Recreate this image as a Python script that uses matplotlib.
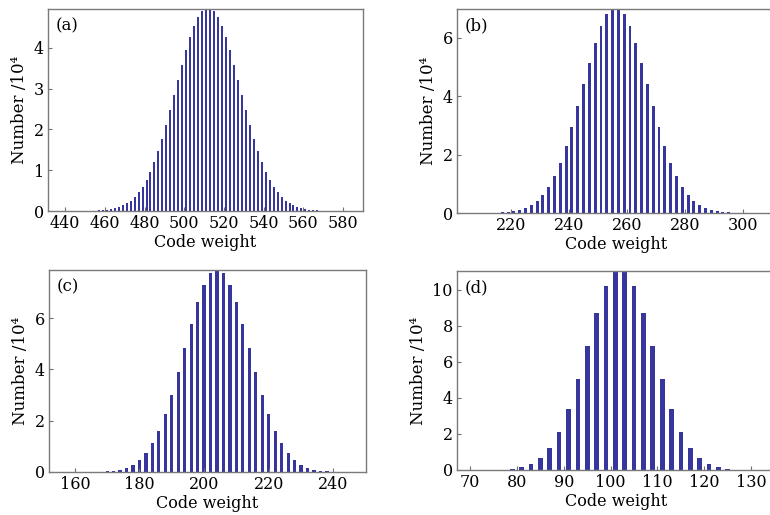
import numpy as np
import matplotlib.pyplot as plt

plt.rcParams['font.family'] = ['DejaVu Serif']

# (a) code weight / counts (x10^4)
xa = list(range(451, 575, 2))
ya = [0.004, 0.006, 0.009, 0.014, 0.021, 0.031, 0.046, 0.067, 0.096, 0.135,
      0.187, 0.256, 0.344, 0.456, 0.594, 0.763, 0.965, 1.201, 1.471, 1.775,
      2.108, 2.464, 2.836, 3.214, 3.585, 3.937, 4.257, 4.532, 4.749, 4.900,
      4.977,
      4.977, 4.900, 4.749, 4.532, 4.257, 3.937, 3.585, 3.214, 2.836, 2.464,
      2.108, 1.775, 1.471, 1.201, 0.965, 0.763, 0.594, 0.456, 0.344, 0.256,
      0.187, 0.135, 0.096, 0.067, 0.046, 0.031, 0.021, 0.014, 0.009, 0.006,
      0.004]

# (b)
xb = list(range(213, 301, 2))
yb = [0.005, 0.010, 0.019, 0.034, 0.059, 0.100, 0.165, 0.264, 0.409, 0.614,
      0.893, 1.260, 1.722, 2.281, 2.929, 3.645, 4.397, 5.140, 5.824, 6.397,
      6.809, 7.026,
      7.026, 6.809, 6.397, 5.824, 5.140, 4.397, 3.645, 2.929, 2.281, 1.722,
      1.260, 0.893, 0.614, 0.409, 0.264, 0.165, 0.100, 0.059, 0.034, 0.019,
      0.010, 0.005]

# (c)
xc = list(range(166, 243, 2))
yc = [0.007, 0.014, 0.027, 0.052, 0.096, 0.169, 0.287, 0.469, 0.737, 1.112,
      1.614, 2.252, 3.022, 3.900, 4.839, 5.773, 6.622, 7.304, 7.747,
      7.900,
      7.747, 7.304, 6.622, 5.773, 4.839, 3.900, 3.022, 2.252, 1.614, 1.112,
      0.737, 0.469, 0.287, 0.169, 0.096, 0.052, 0.027, 0.014, 0.007]

# (d)
xd = list(range(75, 130, 2))
yd = [0.009, 0.024, 0.062, 0.148, 0.324, 0.657, 1.231, 2.131, 3.411, 5.050,
      6.911, 8.744, 10.229, 11.064,
      11.064, 10.229, 8.744, 6.911, 5.050, 3.411, 2.131, 1.231, 0.657, 0.324,
      0.148, 0.062, 0.024, 0.009]

panels = [
    ('(a)', xa, ya, [48, 9, 363, 211], (431.4, 590), 4.95, range(440, 581, 20), range(0, 5)),
    ('(b)', xb, yb, [457, 9, 776, 213], (201.4, 311.3), 6.98, range(220, 301, 20), range(0, 7, 2)),
    ('(c)', xc, yc, [49, 270, 366, 472], (152, 250.1), 7.88, range(160, 241, 20), range(0, 8, 2)),
    ('(d)', xd, yd, [457, 271, 776, 470], (67.2, 135.3), 11.05, range(70, 131, 10), range(0, 11, 2)),
]

W, H = 770, 515
fig = plt.figure(figsize=(W / 100, H / 100), dpi=100)
barcol = '#36369c'

for lab, x, y, box, xl, ytop, xt, yt in panels:
    l, t, r, b = box
    ax = fig.add_axes([l / W, (H - b) / H, (r - l) / W, (b - t) / H])
    ax.bar(x, y, width=1.0, color=barcol, edgecolor='none')
    ax.set_xlim(*xl)
    ax.set_ylim(0, ytop)
    ax.set_xticks(list(xt))
    ax.set_yticks(list(yt))
    ax.tick_params(direction='in', length=3, width=0.8, color='#707070',
                   labelsize=11.5, pad=3)
    for s in ax.spines.values():
        s.set_color('#7a7a7a')
        s.set_linewidth(1.0)
    ax.set_xlabel('Code weight', fontsize=11.5, labelpad=1)
    ax.set_ylabel('Number /10⁴', fontsize=12, labelpad=4)
    ax.text(0.025, 0.96, lab, transform=ax.transAxes, fontsize=12,
            va='top', ha='left')

fig.savefig('out.png', dpi=100)
